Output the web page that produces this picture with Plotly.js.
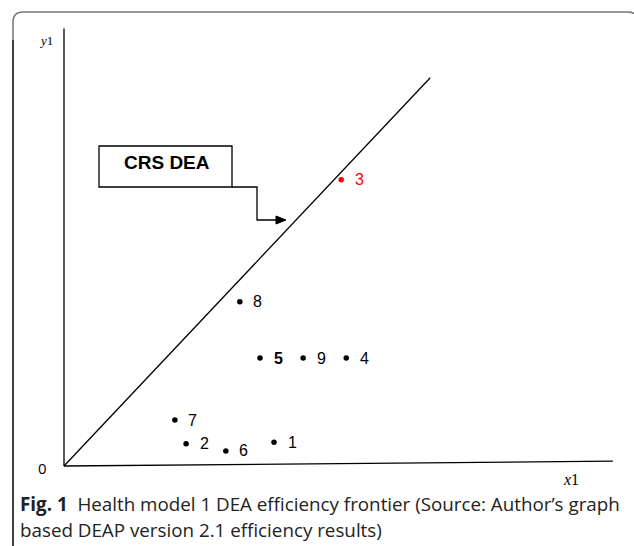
<!DOCTYPE html>
<html>
<head>
<meta charset="utf-8">
<script src="https://cdn.plot.ly/plotly-3.0.1.min.js"></script>
<style>html,body{margin:0;padding:0;background:#fff;}#chart{width:634px;height:546px;}</style>
</head>
<body>
<div id="chart"></div>
<script>
// DMU data (input x1, output y1)
var dmuLabels = ["1", "2", "3", "4", "5", "6", "7", "8", "9"];
var dmuX = [3.75, 2.18, 4.95, 5.04, 3.50, 2.89, 1.98, 3.14, 4.27];
var dmuY = [0.44, 0.41, 5.30, 2.00, 2.00, 0.28, 0.85, 3.04, 2.00];
var dmuColors = ["#000", "#000", "#ff0000", "#000", "#000", "#000", "#000", "#000", "#000"];
// CRS frontier
var frontierX = [0, 6.54];
var frontierY = [0, 7.19];
// axis lines
var xAxisX = [0, 9.8];
var xAxisY = [0, 0.09];
var yAxisX = [0, 0];
var yAxisY = [0, 8.1];

var W = 634, H = 546;
function px(x) { return x / W; }
function py(y) { return 1 - y / H; }

var traces = [
  {x: xAxisX, y: xAxisY, mode: "lines", line: {color: "#000", width: 1.3}, hoverinfo: "skip", showlegend: false},
  {x: yAxisX, y: yAxisY, mode: "lines", line: {color: "#000", width: 1.3}, hoverinfo: "skip", showlegend: false},
  {x: frontierX, y: frontierY, mode: "lines", line: {color: "#000", width: 1.3}, hoverinfo: "skip", showlegend: false},
  {x: dmuX, y: dmuY, mode: "markers", marker: {color: dmuColors, size: 5.5}, hoverinfo: "skip", showlegend: false}
];

var pointLabels = dmuLabels.map(function (l, i) {
  return {
    x: dmuX[i], y: dmuY[i], xref: "x", yref: "y",
    text: l === "5" ? "<b>5</b>" : l,
    showarrow: false, xanchor: "center", yanchor: "middle", xshift: 18, yshift: 0,
    font: {family: "Liberation Sans, Arial, sans-serif", size: 16, color: dmuColors[i]}
  };
});

var frameR = 10;
var fx0 = 13, fy0 = 12, fx1 = 638, fy1 = 560;
var framePath = "M " + px(fx0) + " " + py(fy1) + " L " + px(fx0) + " " + py(fy0 + frameR) +
  " Q " + px(fx0) + " " + py(fy0) + " " + px(fx0 + frameR) + " " + py(fy0) +
  " L " + px(fx1 - frameR) + " " + py(fy0) +
  " Q " + px(fx1) + " " + py(fy0) + " " + px(fx1) + " " + py(fy0 + frameR) +
  " L " + px(fx1) + " " + py(fy1);

function txt(x, y, text, font, xanchor) {
  return {xref: "paper", yref: "paper", x: px(x), y: py(y), text: text, showarrow: false,
          xanchor: xanchor || "center", yanchor: "middle", font: font};
}

var layout = {
  width: W, height: H,
  margin: {l: 0, r: 0, t: 0, b: 0},
  paper_bgcolor: "#fff", plot_bgcolor: "#fff",
  xaxis: {range: [-64 / 56, (634 - 64) / 56], visible: false, fixedrange: true},
  yaxis: {range: [-(546 - 466) / 54, 466 / 54], visible: false, fixedrange: true},
  shapes: [
    {type: "path", xref: "paper", yref: "paper", path: framePath, line: {color: "#777", width: 1.5}},
    {type: "path", xref: "paper", yref: "paper", path: "M " + px(fx0) + " " + py(40) + " L " + px(fx0) + " " + py(560), line: {color: "#222", width: 1.5}},
    {type: "rect", xref: "paper", yref: "paper", x0: px(99), x1: px(232), y0: py(187), y1: py(146), line: {color: "#000", width: 1.3}, fillcolor: "rgba(0,0,0,0)"},
    {type: "path", xref: "paper", yref: "paper",
     path: "M " + px(232) + " " + py(187) + " L " + px(257) + " " + py(187) + " L " + px(257) + " " + py(220) + " L " + px(278) + " " + py(220),
     line: {color: "#000", width: 1.3}},
    {type: "path", xref: "paper", yref: "paper",
     path: "M " + px(286) + " " + py(220) + " L " + px(276) + " " + py(216) + " L " + px(276) + " " + py(224) + " Z",
     line: {color: "#000", width: 1}, fillcolor: "#000"}
  ],
  annotations: pointLabels.concat([
    txt(167, 162, "<b>CRS DEA</b>", {family: "Liberation Sans, Arial, sans-serif", size: 19, color: "#000"}),
    txt(46, 41, "<i>y</i>1", {family: "Liberation Serif, Times New Roman, serif", size: 13, color: "#000"}),
    txt(571, 479, "<i>x</i>1", {family: "Liberation Serif, Times New Roman, serif", size: 16, color: "#000"}),
    txt(42, 468, "0", {family: "Open Sans, sans-serif", size: 15, color: "#000"}),
    txt(18, 504, "<b>Fig. 1</b>  Health model 1 DEA efficiency frontier (Source: Author’s graph",
        {family: "Open Sans, sans-serif", size: 18.8, color: "#222"}, "left"),
    txt(18, 530, "based DEAP version 2.1 efficiency results)",
        {family: "Open Sans, sans-serif", size: 18.8, color: "#222"}, "left")
  ])
};

Plotly.newPlot("chart", traces, layout, {displayModeBar: false, staticPlot: true});
</script>
</body>
</html>
